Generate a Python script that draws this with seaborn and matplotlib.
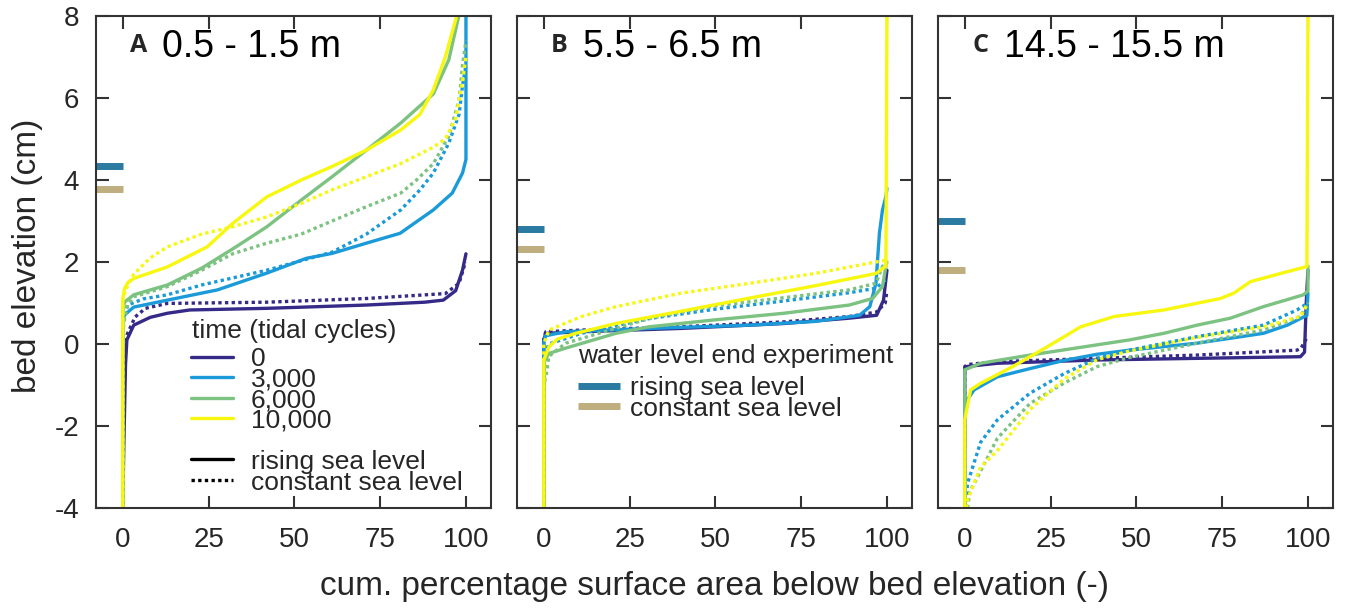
import seaborn as sns
import matplotlib.pyplot as plt
import pandas as pd

# cumulative percentage of surface area (x) vs bed elevation in cm (y)
A_RISE_0 = [(0, -4), (0.3, -2.5), (0.8, -0.5), (1.2, 0.1), (3.2, 0.46), (8, 0.65), (13, 0.75), (19.5, 0.83),
            (42, 0.87), (71, 0.95), (88, 1.02), (93.4, 1.07), (97, 1.3), (99, 1.8), (100, 2.2)]
A_RISE_3000 = [(0, -4), (0, 0.55), (0.5, 0.71), (3.2, 0.9), (13, 1.07), (27.6, 1.32), (42, 1.73), (53.5, 2.09),
               (61, 2.21), (71, 2.46), (80.8, 2.7), (90.5, 3.27), (96, 3.68), (99, 4.17), (100, 4.5), (100, 8)]
A_RISE_6000 = [(0, -4), (0, 0.8), (0.5, 1.02), (3.2, 1.2), (13, 1.44), (23, 1.85), (33, 2.37), (42, 2.86),
               (52, 3.51), (61, 4.08), (71, 4.73), (81, 5.39), (90.5, 6.1), (95, 6.93), (97.9, 8.0)]
A_RISE_10000 = [(0, -4), (0, 1.1), (0.5, 1.35), (1.5, 1.5), (3.2, 1.6), (13, 1.88), (24.6, 2.37), (32, 2.94),
                (42, 3.59), (52, 4.0), (61, 4.33), (71, 4.73), (81, 5.22), (86.6, 5.6), (90.5, 6.2), (94, 7.0),
                (97.3, 8.0)]
A_CONST_0 = [(0, -4), (0, -0.5), (0.6, 0.0), (1.4, 0.26), (3.6, 0.66), (6.6, 0.87), (13, 0.99), (42, 1.02),
             (71, 1.11), (94, 1.23), (98, 1.48), (99.5, 1.9), (100, 2.0)]
A_CONST_3000 = [(0, -4), (0, 0.5), (1.4, 0.95), (6, 1.1), (13, 1.2), (23, 1.44), (42, 1.8), (61, 2.24),
                (71, 2.68), (81, 3.27), (86.6, 3.76), (90.5, 4.17), (95, 4.9), (98, 5.6), (99, 6.3), (100, 6.8)]
A_CONST_6000 = [(0, -4), (0, 0.3), (0.5, 0.6), (1.4, 0.95), (3.2, 1.15), (13, 1.4), (23, 1.8), (32, 2.2),
                (42, 2.46), (52, 2.68), (61, 3.0), (71, 3.35), (81, 3.68), (85.6, 4.0), (90.5, 4.4), (95, 5.07),
                (98, 5.95), (99, 6.8), (100, 7.4)]
A_CONST_10000 = [(0, -4), (0, 1.1), (1, 1.35), (3.2, 1.7), (8, 2.1), (13, 2.37), (23, 2.68), (32, 2.86),
                 (42, 3.1), (52, 3.43), (61, 3.76), (71, 4.08), (81, 4.4), (90.5, 4.8), (94, 5.0), (97, 5.5),
                 (99, 6.4), (100, 7.0)]

B_RISE_0 = [(0, -4), (0, 0.1), (0.6, 0.26), (11.3, 0.3), (40, 0.38), (70, 0.5), (89, 0.63), (97, 0.7),
            (99, 1.07), (100, 1.8)]
B_RISE_3000 = [(0, -4), (0, 0.05), (0.5, 0.2), (6.4, 0.3), (30.7, 0.38), (60, 0.46), (79, 0.55), (92, 0.7),
               (95, 0.91), (96.8, 1.48), (97.8, 2.7), (98.7, 3.27), (99.7, 3.6), (100, 3.8)]
B_RISE_6000 = [(0, -4), (0, -0.45), (1.5, -0.23), (6.4, -0.1), (21, 0.26), (30.7, 0.42), (50, 0.59), (70, 0.75),
               (89, 0.95), (95.8, 1.11), (98.7, 1.4), (99.7, 1.9), (100, 2.0)]
B_RISE_10000 = [(0, -4), (0, -0.39), (1.5, -0.07), (4, 0.12), (9.3, 0.26), (21, 0.5), (40, 0.8), (60, 1.12),
                (79, 1.42), (96.8, 1.72), (99.7, 1.9), (100, 8.0)]
B_CONST_0 = [(0, -4), (0, 0.15), (0.6, 0.3), (11, 0.34), (40, 0.42), (70, 0.54), (89, 0.67), (97, 0.78),
             (99.5, 1.0), (100, 1.3)]
B_CONST_3000 = [(0, -4), (0, -0.3), (1.5, 0.0), (11, 0.26), (30.7, 0.62), (50, 0.85), (70, 1.05), (89, 1.25),
                (96.8, 1.36), (100, 1.6)]
B_CONST_6000 = [(0, -4), (0, -1.0), (0.6, -0.8), (1.5, -0.3), (6.4, 0.02), (16, 0.26), (30.7, 0.62), (50, 0.93),
                (70, 1.13), (89, 1.32), (96.8, 1.48), (98.7, 1.9), (100, 2.0)]
B_CONST_10000 = [(0, -4), (0, 0.0), (1.5, 0.34), (11, 0.67), (21, 0.91), (40, 1.24), (60, 1.48), (79, 1.72),
                 (96.8, 2.0), (100, 2.05)]

C_RISE_0 = [(0, -4), (0, -0.6), (0.5, -0.55), (9.5, -0.47), (38.6, -0.39), (67.7, -0.35), (97.8, -0.31),
            (99, -0.2), (99.5, 1.0), (100, 1.8)]
C_RISE_3000 = [(0, -4), (0, -1.45), (2.7, -1.12), (9.5, -0.8), (19, -0.6), (29, -0.4), (38.6, -0.25),
               (48, -0.15), (67.7, 0.02), (87, 0.26), (94, 0.46), (99.7, 0.7), (100, 1.24)]
C_RISE_6000 = [(0, -4), (0, -0.63), (4.6, -0.47), (19, -0.27), (38.6, -0.02), (48, 0.1), (58, 0.26),
               (67.7, 0.46), (77.4, 0.63), (87, 0.91), (98.7, 1.2), (100, 1.3), (100, 1.9)]
C_RISE_10000 = [(0, -4), (0, -1.85), (1.7, -1.12), (4.6, -0.96), (14, -0.55), (24, -0.07), (33.8, 0.42),
                (43.5, 0.67), (58, 0.83), (74.5, 1.11), (78.4, 1.24), (83.2, 1.52), (92, 1.72), (99.7, 1.89),
                (100, 8.0)]
C_CONST_0 = [(0, -4), (0, -0.55), (0.8, -0.5), (9.5, -0.43), (38.6, -0.35), (67.7, -0.27), (96.8, -0.15),
             (98, -0.1), (100, 0.2)]
C_CONST_3000 = [(0.3, -4), (0.8, -3.4), (4.6, -2.4), (9.5, -1.85), (19, -1.2), (29, -0.72), (38.6, -0.35),
                (48, -0.15), (67.7, 0.18), (87, 0.46), (96.8, 0.83), (100, 1.0)]
C_CONST_6000 = [(0.8, -4), (1.5, -3.6), (4.6, -3.1), (9.5, -2.3), (19, -1.45), (29, -0.95), (38.6, -0.55),
                (48, -0.33), (67.7, 0.02), (87, 0.34), (97.8, 0.67), (100, 1.0)]
C_CONST_10000 = [(0.5, -4), (0.8, -3.8), (4.6, -3.0), (9.5, -2.6), (19, -1.6), (29, -0.85), (38.6, -0.38),
                 (48, -0.17), (67.7, 0.16), (87, 0.42), (97.8, 0.67), (100, 1.0)]

TIMES = ['0', '3,000', '6,000', '10,000']
PANELS = ['A', 'B', 'C']
TITLES = ['0.5 - 1.5 m', '5.5 - 6.5 m', '14.5 - 15.5 m']
WL_RISING = [4.35, 2.80, 3.00]
WL_CONSTANT = [3.79, 2.32, 1.80]

CURVES = {
    'A': {'rising': [A_RISE_0, A_RISE_3000, A_RISE_6000, A_RISE_10000],
          'constant': [A_CONST_0, A_CONST_3000, A_CONST_6000, A_CONST_10000]},
    'B': {'rising': [B_RISE_0, B_RISE_3000, B_RISE_6000, B_RISE_10000],
          'constant': [B_CONST_0, B_CONST_3000, B_CONST_6000, B_CONST_10000]},
    'C': {'rising': [C_RISE_0, C_RISE_3000, C_RISE_6000, C_RISE_10000],
          'constant': [C_CONST_0, C_CONST_3000, C_CONST_6000, C_CONST_10000]},
}

time_colors = {'0': '#352a87', '3,000': '#1a9ad8', '6,000': '#7cc281', '10,000': '#f7f70f'}
rise_color, const_color = '#2b7aa1', '#bfae7e'
spine_color = '#333333'


def panel_frame(panel):
    rows = []
    for scenario in ['constant', 'rising']:
        for t, pts in zip(TIMES, CURVES[panel][scenario]):
            for x, y in pts:
                rows.append((x, y, t, scenario))
    return pd.DataFrame(rows, columns=['pct', 'elev', 'time', 'scenario'])


sns.set_theme(style='ticks')
plt.rcParams['font.family'] = ['Liberation Sans', 'DejaVu Sans']
plt.rcParams['axes.unicode_minus'] = False

W, H = 1346, 608
fig = plt.figure(figsize=(W / 100, H / 100), dpi=100)
lefts = [96, 517, 938]
xlim = (-7.8, 107.3)

axes = []
for i, panel in enumerate(PANELS):
    ax = fig.add_axes([lefts[i] / W, 100 / H, 395 / W, 492 / H])
    axes.append(ax)
    df = panel_frame(panel)
    sns.lineplot(data=df, x='pct', y='elev', hue='time', style='scenario',
                 hue_order=TIMES, style_order=['constant', 'rising'],
                 palette=time_colors, dashes={'rising': '', 'constant': (1, 1)},
                 sort=False, estimator=None, legend=False, linewidth=2.4, ax=ax)

    ax.hlines(WL_RISING[i], xlim[0], 0, color=rise_color, lw=5)
    ax.hlines(WL_CONSTANT[i], xlim[0], 0, color=const_color, lw=5)

    ax.set_xlim(*xlim)
    ax.set_ylim(-4, 8)
    ax.set_xticks([0, 25, 50, 75, 100])
    ax.set_yticks([-4, -2, 0, 2, 4, 6, 8])
    ax.set_xlabel('')
    ax.set_ylabel('')
    ax.tick_params(direction='in', length=9, width=1.5, top=True, right=True,
                   labelsize=20, labelcolor='#262626', color=spine_color)
    ax.tick_params(axis='x', pad=14)
    ax.tick_params(axis='y', pad=12)
    if i > 0:
        ax.tick_params(labelleft=False)
    for s in ax.spines.values():
        s.set_color(spine_color)
        s.set_linewidth(1.5)

    ax.text(34 / 395, (508 - 52) / 492, panel, transform=ax.transAxes, fontsize=18,
            fontweight='bold', family=['Open Sans', 'DejaVu Sans'], va='baseline', ha='left')
    ax.text(66 / 395, (508 - 57) / 492, TITLES[i], transform=ax.transAxes, fontsize=27,
            va='baseline', ha='left', color='black')

# legend for time and scenario, panel A
axA = axes[0]
fx = lambda px: (px - 96) / 395
fy = lambda py: (508 - py) / 492
axA.text(fx(192), fy(338), 'time (tidal cycles)', transform=axA.transAxes, fontsize=19, va='baseline')
for t, py in zip(TIMES, [356.7, 377, 397.7, 418]):
    axA.plot([fx(191), fx(233)], [fy(py), fy(py)], color=time_colors[t], lw=2.4, transform=axA.transAxes)
    axA.text(fx(251), fy(py + 9.5), t, transform=axA.transAxes, fontsize=19, va='baseline')
axA.plot([fx(191), fx(233)], [fy(459), fy(459)], color='black', lw=2.4, transform=axA.transAxes)
axA.text(fx(251), fy(468.5), 'rising sea level', transform=axA.transAxes, fontsize=19, va='baseline')
axA.plot([fx(191), fx(233)], [fy(480), fy(480)], color='black', lw=2.4, ls=(0, (1, 1)),
         transform=axA.transAxes)
axA.text(fx(251), fy(489.5), 'constant sea level', transform=axA.transAxes, fontsize=19, va='baseline')

# legend for water level, panel B
axB = axes[1]
gx = lambda px: (px - 517) / 395
axB.text(gx(578), fy(362.7), 'water level end experiment', transform=axB.transAxes, fontsize=19,
         va='baseline')
for c, py, lab in [(rise_color, 385.7, 'rising sea level'), (const_color, 406, 'constant sea level')]:
    axB.plot([gx(578), gx(620)], [fy(py), fy(py)], color=c, lw=5, solid_capstyle='butt',
             transform=axB.transAxes)
    axB.text(gx(630), fy(py + 9.5), lab, transform=axB.transAxes, fontsize=19, va='baseline')

fig.text(714 / W, 1 - 595 / H, 'cum. percentage surface area below bed elevation (-)',
         fontsize=24, ha='center', va='baseline', color='#262626')
fig.text(28 / W, 1 - 256 / H, 'bed elevation (cm)', fontsize=24, rotation=90,
         ha='center', va='center', color='#262626')

fig.savefig('out.png', dpi=100)
